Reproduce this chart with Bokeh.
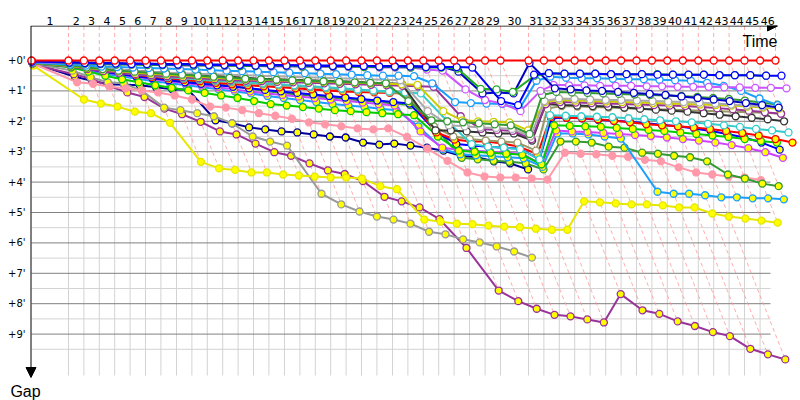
import numpy as np
from bokeh.plotting import figure
from bokeh.models import Range1d, FixedTicker, Arrow, NormalHead, ColumnDataSource
from bokeh.core.properties import value
from bokeh.embed import file_html
from bokeh.resources import INLINE

# leader lap times (seconds), laps 1..46
lap_times = [185,
             77, 77, 77, 77, 77, 77, 78, 77, 77, 77, 77, 77, 77, 78,
             77, 77, 77, 77, 77, 77, 78, 77, 77, 77, 77, 77, 78, 77,
             140,
             77, 77, 77, 77, 78, 77, 77, 77, 77, 78, 77, 77, 77, 77, 78, 77]
lap_labels = [str(i) for i in range(1, 47)]
gap_ticks = [0, 1, 2, 3, 4, 5, 6, 7, 8, 9]
gap_labels = ["+0'", "+1'", "+2'", "+3'", "+4'", "+5'", "+6'", "+7'", "+8'", "+9'"]
grid_laps = 45  # vertical grid lines drawn for laps 1..45

# gaps to leader in seconds, index = lap (0 = start)
red_w = [0, 0, 0, 0, 0, 0, 0, 0, 0, 0, 0, 0, 0, 0, 0, 0, 0, 0, 0, 0, 0, 0, 0, 0,
         0, 0, 0, 0, 0, 0, 0, 0, 0, 0, 0, 0, 0, 0, 0, 0, 0, 0, 0, 0, 0, 0, 0]
blue_w = [2, 4, 5, 6, 6, 7, 7, 8, 8, 8, 9, 9, 9, 10, 10, 10, 10, 11, 11, 11, 11, 12, 12, 12, 13, 13, 13, 14,
          80, 88, 28, 25,
          26, 26, 26, 27, 27, 27, 28, 28, 28, 28, 29, 29, 29, 30, 30]
green_w = [1, 5, 6, 7, 8, 8, 9, 9, 9, 10, 10, 10, 11, 11, 11, 11, 12, 12, 12, 12, 13, 13, 13, 14, 14, 14,
           16, 56, 57, 62, 30, 25,
           26, 26, 26, 27, 27, 27, 27, 28, 28, 28, 29, 29, 29, 30]
navy_w = [1, 3, 4, 5, 5, 6, 6, 7, 7, 7, 8, 8, 8, 9, 9, 9, 10, 10, 10, 10, 11, 11, 11, 11, 12, 12,
          22, 65, 63, 65, 5, 55,
          57, 59, 60, 62, 64, 66, 68, 71, 74, 77, 80, 84, 88, 93]
violet_w = [3, 5, 6, 7, 8, 8, 9, 9, 10, 10, 10, 11, 11, 11, 12, 12, 12, 13, 13, 13, 13, 14, 14, 14, 18, 20,
            57, 78, 85, 100, 60, 48,
            49, 49, 50, 50, 50, 51, 51, 52, 52, 52, 53, 53, 54, 54, 55]
dodger_w = [4, 8, 10, 12, 13, 14, 15, 16, 17, 18, 19, 20, 21, 22, 23, 24, 25, 26, 27, 28, 29, 30, 30, 31,
            45, 82, 84, 85, 86, 95, 40, 32,
            34, 35, 35, 36, 37, 37, 38, 39, 40, 44, 50, 60, 75, 88]
green2_w = [5, 10, 14, 17, 20, 22, 24, 26, 28, 30, 32, 34, 36, 37, 38, 39, 40, 41, 42, 43, 44, 45,
            80, 118, 120, 122, 124, 126, 128, 145, 68, 62,
            63, 64, 65, 66, 67, 68, 69, 70, 72, 74, 76, 79, 83, 87]
grey_w = [4, 9, 13, 16, 18, 20, 22, 24, 25, 26, 27, 28, 29, 30, 31, 32, 33, 34, 35, 36, 37, 38, 39,
          100, 128, 130, 132, 133, 135, 150, 80, 75,
          76, 77, 78, 78, 79, 80, 81, 82, 83, 85, 87, 89, 91, 93]
olive_w = [5, 11, 15, 18, 21, 24, 26, 28, 30, 32, 34, 36, 37, 38, 39, 40, 41, 42, 43, 44, 45, 46, 47, 48,
           100, 118, 120, 121, 122, 138, 82, 78,
           79, 80, 81, 82, 83, 84, 85, 86, 87, 88, 89, 91, 93, 95]
purple_w = [6, 12, 17, 21, 24, 27, 29, 31, 33, 35, 37, 39, 40, 41, 42, 43, 44, 45, 46, 47, 48, 49, 50, 51, 52,
            110, 135, 137, 139, 155, 86, 82,
            83, 84, 85, 86, 87, 88, 89, 90, 92, 94, 96, 99, 102, 105]
black_m = [3, 8, 12, 15, 18, 20, 22, 24, 26, 28, 30, 32, 34, 36, 37, 38, 39, 40, 41, 42, 44, 45, 46,
           138, 138, 140, 142, 144, 144, 158, 86, 88,
           89, 90, 91, 93, 95, 97, 99, 101, 104, 107, 110, 113, 116, 120]
black_tyre_change_lap = 23
cyan_w = [5, 11, 16, 20, 24, 27, 30, 33, 35, 37, 39, 41, 43, 45, 47, 49, 51, 53, 55, 57, 59, 61, 63, 65,
          120, 165, 170, 172, 175, 195, 108, 109,
          110, 111, 112, 114, 116, 118, 120, 122, 125, 128, 131, 135, 138, 142]
khaki_w = [4, 10, 15, 19, 23, 26, 29, 32, 35, 38, 41, 43, 45, 47, 49, 51, 53, 55, 57, 59, 61, 63, 65,
           130, 150, 155, 158, 160, 162, 178, 95, 90,
           91, 92, 93, 94, 95, 96, 97, 98, 99, 100, 101, 102, 103, 105]
red_y = [4, 10, 15, 20, 24, 28, 32, 35, 38, 41, 44, 47, 49, 51, 53, 55, 57, 59, 61, 62, 63, 64, 65,
         142, 156, 160, 160, 164, 170, 185, 111, 113,
         114, 116, 119, 122, 126, 128, 130, 132, 135, 139, 143, 148, 155, 162]
lime_y = [5, 14, 22, 30, 37, 43, 49, 54, 59, 64, 69, 74, 80, 86, 89, 92, 95, 98, 100, 102, 104, 106, 108,
          150, 178, 180, 182, 184, 186, 205, 128, 129,
          130, 131, 133, 135, 137, 139, 142, 145, 148, 151, 155, 159, 162]
blue_y = [4, 11, 17, 22, 27, 31, 35, 39, 43, 46, 49, 52, 55, 58, 61, 64, 67, 70, 73, 76, 79, 82, 85,
          140, 165, 168, 170, 172, 174, 195, 114, 113,
          114, 117, 119, 121, 124, 127, 130, 134, 139, 145, 152, 162, 176]
violet_y = [4, 12, 18, 23, 28, 32, 37, 41, 45, 49, 53, 57, 61, 65, 68, 71, 74, 77, 80, 83, 86, 89,
            140, 172, 176, 178, 180, 182, 184, 205, 138, 140,
            141, 143, 145, 147, 149, 152, 155, 158, 162, 167, 173, 181, 192]
dodger_y = [5, 13, 20, 26, 31, 36, 41, 45, 49, 53, 57, 61, 65, 70, 74, 78, 82, 86, 89, 92, 95, 98,
            130, 175, 185, 187, 189, 191, 193, 210,
            144, 144, 146, 150, 154, 259, 263, 263, 266, 270, 270, 272, 272, 274]
green_y = [4, 11, 16, 21, 25, 29, 33, 37, 40, 44, 47, 51, 55, 60, 64, 67, 70, 73, 76, 79, 82, 85, 88,
           130, 192, 195, 198, 200, 203, 215,
           160, 160, 162, 170, 172, 182, 184, 188, 191, 199, 225, 233, 243, 248]
pink_p = [6, 43, 46, 52, 55, 59, 63, 69, 77, 91, 93, 98, 104, 109, 115, 122, 126, 130, 134, 136, 134,
          151, 174, 198, 221, 229, 231, 231, 233, 235,
          182, 184, 185, 188, 190, 196, 199, 211, 221, 225, 229, 231, 236]
yellow_y = [10,
            77, 85, 91, 101, 104, 123, 200, 213, 216, 221, 221, 225, 227, 229, 231, 231, 233, 248, 254,
            314, 318, 322, 323, 326, 328, 329, 332, 334, 334,
            278, 280, 282, 284, 284, 286, 290, 290, 302, 308, 312, 316, 320]
grey_y = [6, 20, 33, 43, 45, 60, 93, 98, 104, 110, 124, 150, 160, 168, 263, 284, 298, 308, 314, 322,
          338, 343, 353, 359, 367, 377, 389]
purple_y = [8, 27, 36, 51, 63, 72, 95, 106, 121, 140, 146, 164, 181, 188, 203, 217, 224, 238, 269, 278,
            290, 313, 370, 454, 475, 490, 502, 505, 511, 517, 461, 493, 500, 515, 524, 536, 544, 569,
            580, 590]
navy_y = [5, 32, 40, 47, 48, 49, 53, 57, 57, 118, 124, 132, 136, 140, 142, 146, 150, 152, 162, 166,
          164, 168, 172, 178, 188, 191, 199, 203, 215]

WHITE = "#FFFFFF"
YELLOW = "#FFFF00"
series = [
    ("red_w", "#FF0000", WHITE, red_w),
    ("blue_w", "#0000FF", WHITE, blue_w),
    ("green_w", "#22AA22", WHITE, green_w),
    ("navy_w", "#0000C8", WHITE, navy_w),
    ("violet_w", "#CC55FF", WHITE, violet_w),
    ("dodger_w", "#1A9FFF", WHITE, dodger_w),
    ("green2_w", "#339933", WHITE, green2_w),
    ("grey_w", "#AAAAAA", WHITE, grey_w),
    ("olive_w", "#CCCC00", WHITE, olive_w),
    ("purple_w", "#993399", WHITE, purple_w),
    ("black", "#333333", WHITE, black_m),
    ("cyan_w", "#33CCCC", WHITE, cyan_w),
    ("khaki_w", "#999966", WHITE, khaki_w),
    ("red_y", "#FF0000", YELLOW, red_y),
    ("lime_y", "#00CC00", YELLOW, lime_y),
    ("blue_y", "#0000FF", YELLOW, blue_y),
    ("violet_y", "#CC44FF", YELLOW, violet_y),
    ("dodger_y", "#1A9FFF", YELLOW, dodger_y),
    ("green_y", "#339933", YELLOW, green_y),
    ("pink", "#FF99AA", "#FF99AA", pink_p),
    ("yellow", "#E6E600", YELLOW, yellow_y),
    ("grey_y", "#999999", YELLOW, grey_y),
    ("purple_y", "#993399", YELLOW, purple_y),
    ("navy_y", "#000099", YELLOW, navy_y),
]

lap_end = np.concatenate([[0.0], np.cumsum(lap_times)]) / 60.0  # minutes
n_laps = len(lap_times)

# page geometry: x_page = 31 + 12*t, y_page = 60 + 30.4*g ; plot at page origin
W, H = 800, 400
x_left = (0 - 31) / 12.0
x_right = (W - 31) / 12.0
y_top = (25 - 60) / 30.4
y_bot = (H - 60) / 30.4
p = figure(width=W, height=H, output_backend="svg", toolbar_location=None, tools="",
           x_range=Range1d(x_left, x_right), y_range=Range1d(y_bot, y_top),
           x_axis_location="above", y_axis_location=None,
           min_border_left=0, min_border_top=25, min_border_right=0, min_border_bottom=0)
p.outline_line_color = None
p.grid.visible = False
p.background_fill_color = "white"
p.border_fill_color = "white"

mids = [round(float((lap_end[k - 1] + lap_end[k]) / 2), 6) for k in range(1, n_laps + 1)]
xa = p.xaxis[0]
xa.ticker = FixedTicker(ticks=mids)
xa.major_label_overrides = {m: lab for m, lab in zip(mids, lap_labels)}
xa.axis_line_color = None
xa.major_tick_line_color = None
xa.minor_tick_line_color = None
xa.major_tick_out = 0
xa.major_tick_in = 0
xa.major_label_standoff = 1
xa.major_label_text_font = "DejaVu Sans"
xa.major_label_text_font_size = "11px"
xa.major_label_text_color = "black"

grid_x_end = (770 - 31) / 12.0
grid_y_end = (375 - 60) / 30.4
minor_y = [k + 0.5 for k in range(0, 10)]
p.segment(x0=[0] * len(minor_y), y0=minor_y, x1=[grid_x_end] * len(minor_y), y1=minor_y,
          line_color="#D3D3D3", line_width=1)
vx = list(lap_end[1:grid_laps + 1])
p.segment(x0=vx, y0=[0] * len(vx), x1=vx, y1=[grid_y_end] * len(vx), line_color="#D3D3D3", line_width=1)
p.segment(x0=[0] * len(gap_ticks), y0=gap_ticks, x1=[grid_x_end] * len(gap_ticks), y1=gap_ticks,
          line_color="#808080", line_width=1)

# gap tick labels
p.text(x=[(25 - 31) / 12.0] * len(gap_ticks), y=gap_ticks, text=gap_labels,
       text_font=value("DejaVu Sans"), text_font_size=value("10px"), text_color="black",
       text_align="right", text_baseline="middle")

# lap lines (dashed)
axis_y = (25.5 - 60) / 30.4
dxs, dys = [], []
for k in range(1, n_laps + 1):
    gmax = max(s[3][k] for s in series if len(s[3]) > k) / 60.0
    dxs.append([lap_end[k], lap_end[k], lap_end[k] + gmax])
    dys.append([axis_y, 0, gmax])
p.multi_line(dxs, dys, line_color="#FF9999", line_width=1, line_dash="4 3", line_alpha=0.8)

for name, color, fill, gaps in reversed(series):
    g = np.array(gaps, dtype=float) / 60.0
    n = len(g)
    xs = lap_end[:n] + g
    if name == "black":
        fills = [YELLOW if k < black_tyre_change_lap else WHITE for k in range(n)]
    else:
        fills = [fill] * n
    src = ColumnDataSource(dict(x=xs, y=g, f=fills))
    p.line("x", "y", source=src, line_color=color, line_width=2, line_join="round")
    p.scatter("x", "y", source=src, size=7, marker="circle", fill_color="f", line_color=color, line_width=1.3)

# axes arrows
axis_x = (30.5 - 31) / 12.0
p.add_layout(Arrow(end=NormalHead(size=10, fill_color="black", line_color="black"),
                   x_start=axis_x, y_start=axis_y, x_end=(777 - 31) / 12.0, y_end=axis_y,
                   line_color="black", line_width=1))
p.add_layout(Arrow(end=NormalHead(size=10, fill_color="black", line_color="black"),
                   x_start=axis_x, y_start=axis_y, x_end=axis_x, y_end=(377 - 60) / 30.4,
                   line_color="black", line_width=1))

p.text(x=[(777 - 31) / 12.0], y=[(41 - 60) / 30.4], text=["Time"], text_font=value("Liberation Sans"),
       text_font_size=value("16px"), text_color="black", text_align="right", text_baseline="alphabetic")
p.text(x=[(25 - 31) / 12.0], y=[(391 - 60) / 30.4], text=["Gap"], text_font=value("Liberation Sans"),
       text_font_size=value("16px"), text_color="black", text_align="center", text_baseline="alphabetic")

open("out.html", "w").write(file_html(p, INLINE))
